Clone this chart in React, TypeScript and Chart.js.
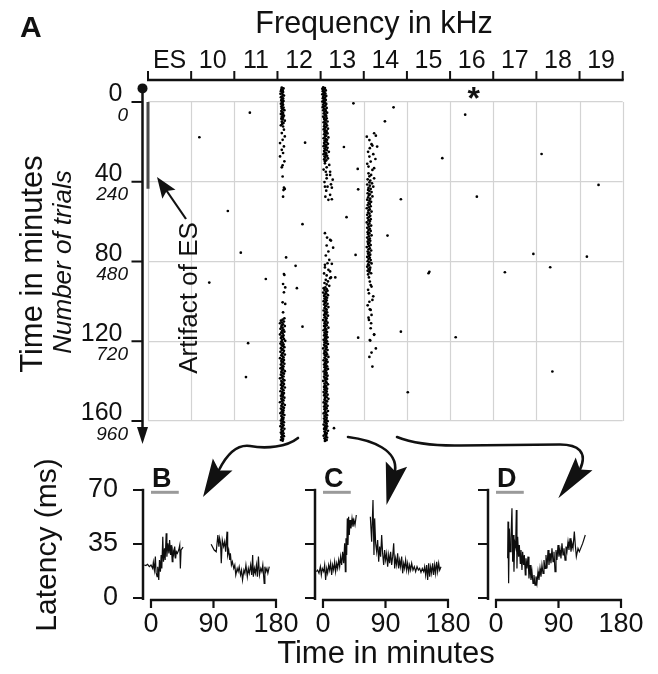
import React, { useEffect, useRef } from 'react';
import { Chart, registerables } from 'chart.js';

Chart.register(...registerables);

const FONT = "'Liberation Sans', Arial, Helvetica, sans-serif";
const INK = '#111111';
const GRID = '#d3d3d3';

// ---------- Raster (panel A) ----------
const freqLabels = ['ES', '10', '11', '12', '13', '14', '15', '16', '17', '18', '19'];
const timeTicks = [0, 40, 80, 120, 160];
const trialTicks = ['0', '240', '480', '720', '960'];
const esArtifact = [0, 43.5]; // minutes (start, end) of the ES artifact

// isolated responses: [column position, minutes]
const strayDots = [
  2.36, 5.4, 1.19, 17.7, 3.64, 20.4, 1.85, 54.7, 3.58, 61.3, 2.15, 75.6, 3.42, 82.2,
  1.42, 90.6, 2.73, 88.8, 3.45, 93.4, 3.58, 112.7, 2.32, 121.0, 2.27, 138.0,
  4.76, 0.7, 5.69, 2.7, 7.35, 6.4, 5.49, 9.7, 4.54, 22.6, 6.82, 28.2, 9.12, 26.1,
  4.86, 33.6, 4.87, 43.8, 10.44, 41.6, 5.86, 48.8, 7.62, 47.5, 4.6, 57.8, 5.55, 67.0,
  4.81, 76.7, 8.93, 76.2, 10.17, 77.6, 9.32, 82.9, 8.27, 85.4, 6.5, 85.9, 6.52, 85.2,
  5.86, 115.2, 4.87, 118.2, 7.13, 118.0, 9.37, 135.2, 6.02, 145.6, 4.31, 163.6,
];

// 12 kHz unit: [minutes, offset in hundredths of a column]
const band12 = [
  -7.2, 10, -6.8, 14, -6.3, 9, -5.9, 12, -5.4, 8, -5.0, 13, -4.5, 11, -4.1, 7, -3.6, 12, -3.2, 15,
  -2.7, 10, -2.3, 8, -1.8, 13, -1.4, 11, -0.9, 9, -0.5, 14, 0, 10, 0.5, 12, 0.9, 8, 1.4, 13,
  1.8, 11, 2.3, 9, 2.8, 14, 3.2, 10, 3.7, 12, 4.1, 16, 4.6, 9, 5.1, 11, 5.5, 13, 6.0, 8,
  6.5, 12, 6.9, 15, 7.4, 10, 7.9, 13, 8.4, 9, 8.8, 12, 9.4, 17, 9.9, 10, 10.5, 14, 11.0, 11,
  11.7, 8, 12.3, 13, 13.9, 15, 15.6, 10, 17.3, 17, 19.0, 12, 20.6, 6, 22.3, 15, 24.0, 10,
  25.6, 13, 27.3, 6, 29.8, 16, 31.8, 12, 32.8, 10, 37.4, 12, 43.0, 15, 43.6, 17, 44.2, 14,
  47.5, 13, 78.0, 20, 86.3, 15, 86.8, 16, 91.3, 13, 93.0, 18, 95.5, 15, 100.5, 12, 101.3, 18,
  105.5, 13, 108.5, 16,
  109.2, 12, 109.7, 8, 110.1, 15, 110.6, 11, 111.0, 6, 111.5, 13, 112.0, 10, 112.4, 17, 112.9, 9,
  113.3, 12, 113.8, 7, 114.3, 14, 114.7, 11, 115.2, 16, 115.6, 9, 116.1, 12, 116.6, 6, 117.0, 14,
  117.5, 10, 117.9, 13, 118.4, 8, 118.9, 15, 119.3, 11, 119.8, 18, 120.2, 9, 120.7, 12, 121.2, 7,
  121.6, 14, 122.1, 10, 122.5, 13, 123.0, 16, 123.5, 8, 123.9, 12, 124.4, 10, 124.8, 15, 125.3, 7,
  125.8, 13, 126.2, 11, 126.7, 17, 127.1, 9, 127.6, 12, 128.1, 14, 128.5, 6, 129.0, 11, 129.4, 15,
  129.9, 9, 130.4, 13, 130.8, 10, 131.3, 16, 131.7, 8, 132.2, 12, 132.7, 14, 133.1, 10, 133.6, 7,
  134.0, 13, 134.5, 11, 135.0, 17, 135.4, 9, 135.9, 12, 136.3, 15, 136.8, 8, 137.3, 11, 137.7, 14,
  138.2, 10, 138.6, 6, 139.1, 13, 139.6, 16, 140.0, 9, 140.5, 12, 140.9, 10, 141.4, 15, 141.9, 8,
  142.3, 13, 142.8, 11, 143.2, 17, 143.7, 9, 144.2, 12, 144.6, 14, 145.1, 7, 145.5, 11, 146.0, 15,
  146.5, 10, 146.9, 13, 147.4, 8, 147.8, 12, 148.3, 16, 148.8, 9, 149.2, 11, 149.7, 14, 150.1, 10,
  150.6, 6, 151.1, 13, 151.5, 11, 152.0, 17, 152.4, 9, 152.9, 12, 153.4, 15, 153.8, 8, 154.3, 11,
  154.7, 14, 155.2, 10, 155.7, 13, 156.1, 7, 156.6, 12, 157.0, 16, 157.5, 9, 158.0, 11, 158.4, 14,
  158.9, 10, 159.3, 13, 159.8, 8, 160.3, 12, 160.7, 15, 161.2, 9, 161.6, 11, 162.1, 14, 162.6, 7,
  163.0, 12, 163.5, 10, 163.9, 16, 164.4, 9, 164.9, 13, 165.3, 11, 165.8, 8, 166.2, 14, 166.7, 10,
  167.2, 12, 167.6, 15, 168.1, 9, 168.5, 11, 169.0, 13, 169.5, 8, 169.9, 12,
];

// 13 kHz unit
const band13 = [
  -7.3, 6, -7.0, 10, -6.6, 4, -6.2, 8, -5.8, 12, -5.4, 5, -5.0, 9, -4.6, 7, -4.2, 11, -3.8, 4,
  -3.4, 8, -3.0, 13, -2.6, 6, -2.2, 10, -1.8, 5, -1.4, 9, -1.0, 12, -0.6, 7, -0.2, 4, 0.2, 10,
  0.6, 8, 1.0, 13, 1.4, 6, 1.8, 11, 2.2, 9, 2.6, 5, 3.0, 14, 3.4, 8, 3.8, 11, 4.2, 6,
  4.6, 12, 5.0, 9, 5.4, 15, 5.8, 7, 6.2, 11, 6.6, 10, 7.0, 13, 7.4, 6, 7.8, 9, 8.2, 14,
  8.6, 8, 9.0, 12, 9.4, 10, 9.8, 16, 10.2, 7, 10.6, 11, 11.0, 13, 11.4, 9, 11.8, 15, 12.2, 8,
  12.6, 12, 13.0, 10, 13.4, 17, 13.8, 7, 14.2, 11, 14.6, 14, 15.0, 9, 15.4, 12, 15.8, 16, 16.2, 8,
  16.6, 11, 17.0, 13, 17.4, 10, 17.8, 18, 18.2, 7, 18.6, 12, 19.0, 15, 19.4, 9, 19.8, 11, 20.2, 14,
  20.6, 8, 21.0, 17, 21.4, 10, 21.8, 13, 22.2, 7, 22.6, 12, 23.0, 16, 23.4, 9, 23.8, 11, 24.2, 14,
  24.6, 8, 25.0, 19, 25.4, 10, 25.8, 13, 26.2, 7, 26.6, 12, 27.0, 15, 27.4, 9, 27.9, 11, 28.3, 17,
  28.8, 8, 29.3, 13, 29.8, 10,
  30.8, 10, 31.6, 20, 32.8, 14, 33.9, 7, 35.0, 12, 35.0, 22, 36.6, 22, 36.6, 14, 38.3, 14, 39.0, 28,
  40.2, 9, 41.3, 24, 42.5, 16, 42.5, 10, 43.0, 26, 44.5, 13, 46.6, 22, 47.5, 11, 48.8, 26, 49.1, 18,
  65.8, 10, 68.0, 15, 69.2, 22, 69.5, 24, 72.0, 14, 73.1, 29, 75.0, 18, 77.0, 12, 79.2, 20, 80.9, 16,
  81.2, 26, 81.7, 10, 83.0, 10, 84.2, 18, 85.0, 22, 86.0, 8, 87.0, 14, 88.0, 34, 88.0, 24, 88.4, 22,
  89.2, 12, 90.0, 17, 90.8, 9, 91.5, 14, 92.2, 20,
  93.0, 11, 93.4, 7, 93.9, 14, 94.3, 9, 94.7, 16, 95.2, 12, 95.6, 6, 96.0, 13, 96.5, 10, 96.9, 17,
  97.3, 8, 97.8, 12, 98.2, 15, 98.6, 9, 99.0, 11, 99.5, 14, 99.9, 7, 100.3, 12, 100.8, 10, 101.2, 16,
  101.6, 8, 102.1, 13, 102.5, 11, 102.9, 18, 103.4, 9, 103.8, 12, 104.2, 14, 104.6, 7, 105.1, 11,
  105.5, 15, 105.9, 10, 106.4, 13, 106.8, 8, 107.2, 17, 107.7, 11, 108.1, 9, 108.5, 14, 108.9, 12,
  109.4, 6, 109.8, 13, 110.2, 10, 110.7, 16, 111.1, 9, 111.5, 12, 112.0, 14, 112.4, 8, 112.8, 11,
  113.2, 18, 113.7, 10, 114.1, 13, 114.5, 7, 115.0, 12, 115.4, 15, 115.8, 9, 116.3, 11, 116.7, 14,
  117.1, 8, 117.5, 12, 118.0, 16, 118.4, 10, 118.8, 13, 119.3, 7, 119.7, 11, 120.1, 15, 120.6, 9,
  121.0, 12, 121.4, 17, 121.8, 8, 122.3, 13, 122.7, 10, 123.1, 14, 123.6, 6, 124.0, 12, 124.4, 16,
  124.9, 9, 125.3, 11, 125.7, 13, 126.1, 8, 126.6, 15, 127.0, 10, 127.4, 12, 127.9, 18, 128.3, 9,
  128.7, 11, 129.2, 14, 129.6, 7, 130.0, 12, 130.4, 16, 130.9, 10, 131.3, 13, 131.7, 8, 132.2, 11,
  132.6, 15, 133.0, 9, 133.5, 12, 133.9, 17, 134.3, 10, 134.7, 13, 135.2, 7, 135.6, 11, 136.0, 14,
  136.5, 9, 136.9, 12, 137.3, 16, 137.8, 8, 138.2, 13, 138.6, 10, 139.0, 15, 139.5, 11, 139.9, 6,
  140.3, 12, 140.8, 14, 141.2, 9, 141.6, 17, 142.1, 10, 142.5, 13, 142.9, 8, 143.3, 12, 143.8, 15,
  144.2, 9, 144.6, 11, 145.1, 14, 145.5, 7, 145.9, 13, 146.4, 10, 146.8, 16, 147.2, 8, 147.6, 12,
  148.1, 14, 148.5, 10, 148.9, 18, 149.4, 9, 149.8, 12, 150.2, 15, 150.7, 7, 151.1, 11, 151.5, 13,
  151.9, 10, 152.4, 16, 152.8, 8, 153.2, 12, 153.7, 14, 154.1, 9, 154.5, 11, 155.0, 17, 155.4, 10,
  155.8, 13, 156.2, 7, 156.7, 12, 157.1, 15, 157.5, 9, 158.0, 11, 158.4, 14, 158.8, 8, 159.3, 13,
  159.7, 10, 160.1, 16, 160.5, 9, 161.0, 12, 161.4, 14, 161.8, 7, 162.3, 11, 162.7, 15, 163.1, 10,
  163.6, 13, 164.0, 8, 164.4, 12, 164.9, 17, 165.3, 9, 165.7, 11, 166.1, 14, 166.6, 10, 167.0, 13,
  167.4, 7, 167.9, 12, 168.3, 15, 168.7, 9, 169.2, 11, 169.6, 14, 170.0, 10,
];

// 14 kHz unit
const band14 = [
  15.7, 24, 16.9, 28, 17.4, 7, 19.1, 13, 21.2, 18, 21.9, 20, 22.4, 31, 23.2, 14, 25.0, 10, 26.2, 22,
  27.4, 13, 28.6, 27, 29.9, 16, 31.0, 8, 32.4, 11, 33.2, 24, 34.1, 20, 35.8, 11, 36.6, 17,
  37.3, 13, 38.3, 24, 38.8, 9, 39.4, 15, 40.3, 13, 40.8, 19, 41.4, 8, 42.0, 14, 42.5, 22, 43.1, 11,
  43.6, 16, 44.1, 10, 44.7, 13, 45.2, 18, 45.8, 9, 46.3, 14, 46.8, 12, 47.4, 20, 47.9, 10, 48.5, 15,
  49.0, 8, 49.5, 13, 50.1, 17, 50.6, 11, 51.2, 14, 51.7, 9, 52.3, 16, 52.8, 12, 53.3, 7, 53.9, 14,
  54.4, 11, 55.0, 18, 55.5, 10, 56.0, 13, 56.6, 8, 57.1, 15, 57.7, 12, 58.2, 9, 58.8, 16, 59.3, 11,
  59.8, 14, 60.4, 7, 60.9, 13, 61.5, 10, 62.0, 17, 62.5, 12, 63.1, 8, 63.6, 14, 64.2, 11, 64.7, 16,
  65.3, 9, 65.8, 13, 66.3, 10, 66.9, 18, 67.4, 12, 68.0, 8, 68.5, 14, 69.0, 11, 69.6, 15, 70.1, 9,
  70.7, 13, 71.2, 10, 71.8, 16, 72.3, 12, 72.8, 7, 73.4, 14, 73.9, 11, 74.5, 17, 75.0, 9, 75.5, 13,
  76.1, 10, 76.6, 15, 77.2, 12, 77.7, 8, 78.2, 14, 78.8, 11, 79.3, 16, 79.9, 9, 80.4, 13, 81.0, 18,
  81.5, 10, 82.0, 12, 82.6, 8, 83.1, 15, 83.7, 11, 84.2, 14, 84.7, 9, 85.3, 13, 85.9, 17, 86.5, 10,
  88.0, 12, 90.1, 14, 91.8, 16, 92.6, 18, 94.2, 10, 96.0, 12, 97.5, 22, 99.3, 20, 100.2, 13, 102.0, 9,
  104.0, 14, 104.3, 16, 106.8, 18, 108.2, 11, 109.3, 12, 111.0, 17, 113.5, 16, 116.5, 24, 116.8, 24,
  119.4, 14, 119.7, 15, 123.6, 28, 125.7, 18, 127.9, 13, 132.7, 20,
];

// ---------- Latency panels (B, C, D) ----------
const panelTimeTicks = [0, 90, 180];
const latencyTicks = [0, 35, 70];
const esBar = [0, 40]; // minutes of electrical stimulation

// [minutes, latency ms]
const latB1 = [
  -9.7, 21.4, -7.3, 21.0, -4.9, 21.8, -2.4, 20.3, 0, 21.4, 2.4, 19.2, 3.4, 23.1, 4.9, 18.1, 6.3, 26.8,
  7.3, 16.6, 8.8, 13.8, 9.7, 20.3, 11.2, 11.7, 12.2, 24.6, 13.6, 17.1, 14.6, 27.9, 15.6, 19.2, 17.0, 39.7,
  18.0, 23.5, 19.5, 32.2, 20.4, 24.6, 21.9, 41.9, 22.9, 26.8, 24.3, 35.4, 25.8, 28.9, 26.8, 37.6, 28.2, 27.9,
  29.2, 34.3, 30.6, 23.5, 31.6, 31.1, 33.1, 27.9, 34.1, 33.3, 35.5, 25.7, 36.5, 30.0, 37.9, 28.9, 39.9, 31.1,
  41.4, 34.3, 42.3, 19.2, 43.3, 31.1, 46.2, 33.0,
];
const latB2 = [
  86.6, 34.8, 91.0, 31.1, 93.9, 30.0, 96.3, 40.8, 97.8, 33.3, 98.8, 38.7, 100.2, 35.4, 101.2, 22.5,
  102.7, 37.6, 104.6, 33.3, 106.1, 36.5, 107.5, 30.0, 109.5, 43.0, 110.4, 27.9, 111.9, 31.1, 113.4, 24.6,
  114.3, 28.9, 115.8, 21.4, 117.2, 23.5, 119.2, 19.2, 120.7, 21.4, 122.1, 14.9, 124.1, 19.2, 125.5, 17.1,
  127.0, 20.3, 128.9, 14.9, 130.4, 18.1, 131.8, 11.7, 133.8, 18.1, 135.2, 16.0, 136.7, 21.4, 138.7, 13.8,
  140.1, 19.2, 141.6, 16.0, 143.5, 21.4, 145.0, 14.9, 146.4, 27.9, 147.4, 13.8, 148.9, 19.2, 150.3, 16.0,
  151.8, 21.4, 153.2, 13.8, 154.7, 26.8, 156.2, 14.9, 158.1, 19.2, 159.6, 17.1, 161.0, 21.4, 163.0, 9.5,
  164.0, 20.3, 165.4, 17.1, 166.9, 19.2, 168.3, 16.0, 170.3, 20.3,
];
const latC1 = [
  -9.6, 17.1, -7.7, 18.1, -5.8, 16.0, -3.8, 20.3, -2.4, 14.9, -1.0, 19.2, 1.0, 17.1, 2.4, 21.4, 3.8, 11.7,
  5.3, 19.2, 6.7, 16.0, 8.2, 21.4, 9.6, 18.1, 11.0, 22.5, 12.5, 14.9, 13.9, 21.4, 15.4, 18.1, 16.8, 23.5,
  18.2, 17.1, 19.7, 22.5, 21.1, 19.2, 22.6, 24.6, 24.0, 20.3, 25.4, 26.8, 26.9, 21.4, 28.3, 30.0, 29.8, 22.5,
  31.2, 35.4, 32.2, 17.1, 33.1, 38.7, 34.1, 27.9, 35.0, 51.6, 36.0, 34.3, 36.9, 52.7, 37.9, 40.8, 38.9, 50.5,
  40.3, 45.1, 41.8, 51.6, 43.2, 46.2, 44.6, 50.5, 46.1, 47.3, 48.0, 53.8,
];
const latC2 = [
  68.2, 52.7, 70.1, 36.5, 72.0, 63.5, 73.4, 27.9, 74.4, 51.6, 75.8, 35.4, 77.3, 30.0, 78.7, 37.6, 80.2, 23.5,
  81.6, 33.3, 83.0, 26.8, 84.5, 40.8, 85.9, 28.9, 87.4, 21.4, 88.8, 31.1, 90.2, 24.6, 91.7, 28.9, 93.1, 20.3,
  94.6, 27.9, 96.0, 22.5, 97.4, 30.0, 98.9, 21.4, 100.3, 26.8, 101.8, 35.4, 103.2, 19.2, 104.6, 25.7,
  106.1, 21.4, 107.5, 28.9, 109.0, 19.2, 110.4, 24.6, 111.8, 20.3, 113.3, 26.8, 114.7, 16.0, 116.2, 22.5,
  117.6, 19.2, 119.0, 24.6, 120.5, 18.1, 121.9, 22.5, 123.4, 17.1, 124.8, 21.4, 126.2, 18.1, 127.7, 22.5,
  129.6, 18.1, 131.5, 20.3, 133.4, 17.1, 135.4, 20.3, 137.3, 18.1, 139.2, 19.2, 141.1, 16.6, 143.0, 19.2,
  145.0, 17.1, 146.4, 20.3, 147.8, 14.9, 149.3, 21.4, 150.7, 11.7, 152.2, 22.5, 153.6, 13.8, 155.0, 20.3,
  156.5, 16.0, 157.9, 22.5, 159.4, 14.9, 160.8, 21.4, 162.2, 16.0, 163.7, 23.5, 165.1, 17.1, 166.6, 22.5,
  168.0, 18.1, 169.9, 20.3,
];
const latD = [
  16.8, 25.7, 17.3, 49.5, 18.2, 9.5, 19.2, 45.1, 20.2, 30.0, 21.6, 38.7, 23.0, 58.1, 24.0, 23.5, 25.0, 40.8,
  25.9, 17.1, 26.9, 36.5, 28.3, 33.3, 29.3, 57.0, 30.2, 19.2, 31.2, 39.7, 32.6, 26.8, 33.6, 34.3, 35.0, 22.5,
  36.0, 31.1, 37.4, 18.1, 38.4, 30.0, 39.8, 21.4, 40.8, 27.9, 42.2, 14.9, 43.2, 25.7, 44.6, 19.2, 46.1, 26.8,
  47.5, 12.7, 49.0, 21.4, 50.4, 11.7, 51.8, 17.1, 53.3, 9.5, 54.7, 14.9, 56.2, 8.4, 57.6, 14.0, 59.0, 9.5,
  60.5, 17.1, 61.9, 11.7, 63.4, 19.2, 64.8, 13.8, 66.2, 21.4, 67.7, 16.0, 69.1, 24.6, 70.6, 19.2, 72.0, 27.9,
  73.4, 19.2, 74.9, 31.1, 76.3, 21.4, 77.8, 28.9, 79.2, 22.5, 80.6, 32.2, 82.1, 23.5, 83.5, 30.0, 85.0, 17.1,
  86.4, 31.1, 87.8, 24.6, 89.3, 34.3, 90.7, 26.8, 92.2, 31.1, 93.6, 25.7, 95.0, 35.4, 96.5, 27.9, 97.9, 32.2,
  99.4, 24.6, 100.8, 33.3, 102.2, 30.0, 103.7, 36.5, 105.1, 31.1, 106.6, 38.7, 108.0, 30.0, 109.4, 35.4,
  110.9, 32.2, 112.8, 43.0, 114.2, 34.3, 115.7, 26.8, 118.1, 32.2, 120.0, 30.0, 124.8, 35.4, 128.6, 40.8,
];

// ---------- helpers ----------
function pairs(arr: number[]) {
  const out: { x: number; y: number }[] = [];
  for (let i = 0; i < arr.length; i += 2) out.push({ x: arr[i], y: arr[i + 1] });
  return out;
}

function arrowHead(ctx: CanvasRenderingContext2D, tx: number, ty: number, dx: number, dy: number, len: number, half: number, notch: number) {
  const n = Math.hypot(dx, dy);
  const ux = dx / n, uy = dy / n;
  const bx = tx - ux * len, by = ty - uy * len;
  const px = -uy, py = ux;
  ctx.beginPath();
  ctx.moveTo(tx, ty);
  ctx.lineTo(bx + px * half, by + py * half);
  ctx.lineTo(tx - ux * (len - notch), ty - uy * (len - notch));
  ctx.lineTo(bx - px * half, by - py * half);
  ctx.closePath();
  ctx.fill();
}

function rotatedText(ctx: CanvasRenderingContext2D, text: string, x: number, y: number, font: string) {
  ctx.save();
  ctx.translate(x, y);
  ctx.rotate(-Math.PI / 2);
  ctx.font = font;
  ctx.textAlign = 'center';
  ctx.textBaseline = 'alphabetic';
  ctx.fillText(text, 0, 0);
  ctx.restore();
}

const noPad = (s: any) => {
  s.paddingLeft = 0;
  s.paddingRight = 0;
  s.paddingTop = 0;
  s.paddingBottom = 0;
};

const rasterDecor = {
  id: 'rasterDecor',
  beforeDatasetsDraw(chart: any) {
    const { ctx, scales } = chart;
    const x = scales.x, y = scales.y;
    const top = y.getPixelForValue(timeTicks[0]);
    const bottom = y.getPixelForValue(timeTicks[timeTicks.length - 1]);
    ctx.save();
    ctx.strokeStyle = GRID;
    ctx.lineWidth = 1.2;
    for (let i = 0; i <= freqLabels.length; i++) {
      const px = Math.round(x.getPixelForValue(i)) + 0.5;
      ctx.beginPath();
      ctx.moveTo(px, top);
      ctx.lineTo(px, bottom);
      ctx.stroke();
    }
    ctx.restore();
  },
  afterDraw(chart: any) {
    const { ctx, scales, chartArea } = chart;
    const x = scales.x, y = scales.y;
    ctx.save();
    ctx.strokeStyle = INK;
    ctx.fillStyle = INK;

    // top frequency axis (detached)
    const axY = 80;
    ctx.lineWidth = 2.5;
    ctx.beginPath();
    ctx.moveTo(x.getPixelForValue(0) - 1, axY);
    ctx.lineTo(x.getPixelForValue(freqLabels.length) + 1, axY);
    ctx.stroke();
    ctx.lineWidth = 2;
    ctx.beginPath();
    for (let i = 0; i <= freqLabels.length; i++) {
      const px = x.getPixelForValue(i);
      ctx.moveTo(px, axY);
      ctx.lineTo(px, axY - 9);
    }
    ctx.stroke();

    // left time axis with start dot and arrow
    const ax = chartArea.left - 5.5;
    const yStart = y.getPixelForValue(-6.8);
    const yEnd = y.getPixelForValue(171);
    ctx.lineWidth = 2.5;
    ctx.beginPath();
    ctx.moveTo(ax, yStart);
    ctx.lineTo(ax, yEnd - 12);
    ctx.stroke();
    ctx.beginPath();
    ctx.arc(ax, yStart, 5, 0, Math.PI * 2);
    ctx.fill();
    ctx.beginPath();
    ctx.moveTo(ax - 5.5, yEnd - 16);
    ctx.lineTo(ax + 5.5, yEnd - 16);
    ctx.lineTo(ax, yEnd + 1);
    ctx.closePath();
    ctx.fill();
    ctx.lineWidth = 2;
    ctx.beginPath();
    timeTicks.forEach((v) => {
      const py = y.getPixelForValue(v);
      ctx.moveTo(ax - 11, py);
      ctx.lineTo(ax, py);
    });
    ctx.stroke();

    // time tick labels (sit just above each tick)
    ctx.font = `25px ${FONT}`;
    ctx.textAlign = 'right';
    ctx.textBaseline = 'alphabetic';
    timeTicks.forEach((v) => {
      ctx.fillText(String(v), ax - 20, y.getPixelForValue(v) - 0.5);
    });

    // texts
    ctx.font = `bold 30px ${FONT}`;
    ctx.textAlign = 'left';
    ctx.fillText('A', 20, 37);
    ctx.font = `30.5px ${FONT}`;
    ctx.textAlign = 'center';
    ctx.fillText('Frequency in kHz', 374, 33);
    rotatedText(ctx, 'Time in minutes', 42, 264, `31px ${FONT}`);
    rotatedText(ctx, 'Number of trials', 71, 262, `italic 26px ${FONT}`);
    rotatedText(ctx, 'Artifact of ES', 197, 298, `26px ${FONT}`);
    rotatedText(ctx, 'Latency (ms)', 56, 545, `30px ${FONT}`);
    ctx.font = `31px ${FONT}`;
    ctx.textAlign = 'center';
    ctx.fillText('Time in minutes', 386, 663);
    ctx.font = `bold 32px ${FONT}`;
    ctx.fillText('*', x.getPixelForValue(7.55), 109);

    // arrow to the ES artifact
    ctx.lineWidth = 2.2;
    ctx.beginPath();
    ctx.moveTo(186, 219);
    ctx.lineTo(164, 187);
    ctx.stroke();
    arrowHead(ctx, 157, 177, -29, -42, 21, 8, 4);

    // curved arrows to the latency panels
    ctx.lineWidth = 2.6;
    ctx.lineCap = 'round';
    ctx.beginPath();
    ctx.moveTo(298, 438);
    ctx.bezierCurveTo(287, 447, 266, 449, 250, 446);
    ctx.bezierCurveTo(236, 444, 226, 456, 219, 470);
    ctx.stroke();
    arrowHead(ctx, 203, 497, -20, 33, 38, 11.5, 7);

    ctx.beginPath();
    ctx.moveTo(348, 437);
    ctx.bezierCurveTo(372, 440, 398, 450, 395, 471);
    ctx.stroke();
    arrowHead(ctx, 386.5, 505, -10, 41, 42, 11, 7);

    ctx.beginPath();
    ctx.moveTo(397, 437);
    ctx.bezierCurveTo(412, 443, 430, 446, 460, 445.5);
    ctx.lineTo(560, 444.5);
    ctx.bezierCurveTo(578, 444.5, 588, 452, 580, 469.5);
    ctx.stroke();
    arrowHead(ctx, 558.3, 498.3, -25.7, 34.3, 43, 10.5, 7);

    ctx.restore();
  },
};

function rasterConfig(): any {
  const dots = pairs(strayDots);
  const addBand = (col: number, arr: number[]) => {
    for (let i = 0; i < arr.length; i += 2) dots.push({ x: col + arr[i + 1] / 100, y: arr[i] });
  };
  addBand(3, band12);
  addBand(4, band13);
  addBand(5, band14);

  return {
    type: 'scatter',
    data: {
      datasets: [
        {
          type: 'line',
          data: esArtifact.map((t) => ({ x: 0, y: t })),
          borderColor: '#4a4a4a',
          borderWidth: 3,
          pointRadius: 0,
          clip: false,
        },
        {
          type: 'scatter',
          data: dots,
          pointRadius: 1.35,
          pointHoverRadius: 1.35,
          pointBackgroundColor: '#000',
          pointBorderColor: '#000',
          pointBorderWidth: 0,
          backgroundColor: '#000',
          borderColor: '#000',
          borderWidth: 0,
          clip: false,
        },
      ],
    },
    options: {
      animation: false,
      responsive: false,
      devicePixelRatio: 1,
      events: [],
      layout: { padding: { left: 0, top: 0, right: 35.3, bottom: 674 - 444.9 } },
      plugins: { legend: { display: false }, tooltip: { enabled: false } },
      scales: {
        x: {
          type: 'linear',
          position: 'top',
          min: 0,
          max: freqLabels.length,
          afterBuildTicks: (s: any) => {
            s.ticks = freqLabels.map((_, i) => ({ value: i + 0.5 }));
          },
          ticks: {
            autoSkip: false,
            maxRotation: 0,
            minRotation: 0,
            padding: 9.5,
            color: INK,
            font: { family: FONT, size: 25, lineHeight: 1.2 },
            callback: (v: any) => freqLabels[Math.round(Number(v) - 0.5)],
          },
          grid: { display: false, drawTicks: false },
          border: { display: false },
          afterFit: (s: any) => {
            s.height = 86;
            noPad(s);
          },
        },
        y: {
          type: 'linear',
          position: 'left',
          min: -8,
          max: 172,
          reverse: true,
          afterBuildTicks: (s: any) => {
            s.ticks = timeTicks.map((v) => ({ value: v }));
          },
          ticks: {
            padding: 20,
            color: INK,
            font: { family: FONT, size: 19, style: 'italic', lineHeight: 1.4 },
            callback: (v: any) => ['', trialTicks[timeTicks.indexOf(Number(v))]],
          },
          grid: { color: GRID, lineWidth: 1.2, drawTicks: false },
          border: { display: false },
          afterFit: (s: any) => {
            s.width = 148;
            noPad(s);
          },
        },
      },
    },
    plugins: [rasterDecor],
  };
}

function panelDecor(letter: string) {
  return {
    id: 'panelDecor',
    afterDraw(chart: any) {
      const { ctx, scales, chartArea } = chart;
      const x = scales.x, y = scales.y;
      const ax = chartArea.left;
      const y0 = y.getPixelForValue(0);
      const yTop = y.getPixelForValue(latencyTicks[latencyTicks.length - 1]);
      ctx.save();
      ctx.strokeStyle = INK;
      ctx.fillStyle = INK;
      ctx.lineWidth = 2.5;
      ctx.beginPath();
      ctx.moveTo(ax, yTop - 1.2);
      ctx.lineTo(ax, y0 + 2);
      ctx.stroke();
      ctx.lineWidth = 2.2;
      ctx.beginPath();
      latencyTicks.forEach((v) => {
        const py = y.getPixelForValue(v);
        ctx.moveTo(ax - 10, py);
        ctx.lineTo(ax + 1, py);
      });
      ctx.stroke();
      const xa = y0 + 2;
      ctx.lineWidth = 2.5;
      ctx.beginPath();
      ctx.moveTo(x.getPixelForValue(panelTimeTicks[0]) - 1, xa);
      ctx.lineTo(x.getPixelForValue(panelTimeTicks[panelTimeTicks.length - 1]) + 1, xa);
      ctx.stroke();
      ctx.lineWidth = 2.2;
      ctx.beginPath();
      panelTimeTicks.forEach((v) => {
        const px = x.getPixelForValue(v);
        ctx.moveTo(px, xa - 1);
        ctx.lineTo(px, xa + 8);
      });
      ctx.stroke();
      ctx.font = `bold 27px ${FONT}`;
      ctx.textAlign = 'left';
      ctx.textBaseline = 'alphabetic';
      ctx.fillText(letter, x.getPixelForValue(0) + 1, yTop - 3);
      ctx.restore();
    },
  };
}

const PANEL_W = 312;
const PANEL_H = 214;

function panelConfig(letter: string, segments: number[][], showY: boolean): any {
  const lineSets = segments.map((seg) => ({
    data: pairs(seg),
    borderColor: '#0d0d0d',
    borderWidth: 1.2,
    pointRadius: 0,
    tension: 0,
    clip: false,
  }));
  return {
    type: 'line',
    data: {
      datasets: [
        ...lineSets,
        {
          data: esBar.map((t) => ({ x: t, y: 68.5 })),
          borderColor: '#9a9a9a',
          borderWidth: 3,
          pointRadius: 0,
          clip: false,
        },
      ],
    },
    options: {
      animation: false,
      responsive: false,
      devicePixelRatio: 1,
      events: [],
      layout: { padding: { left: 0, top: 30, right: PANEL_W - 276, bottom: 0 } },
      plugins: { legend: { display: false }, tooltip: { enabled: false } },
      scales: {
        x: {
          type: 'linear',
          min: -11.5,
          max: 180,
          afterBuildTicks: (s: any) => {
            s.ticks = panelTimeTicks.map((v) => ({ value: v }));
          },
          ticks: {
            autoSkip: false,
            maxRotation: 0,
            padding: 10.5,
            color: INK,
            font: { family: FONT, size: 27, lineHeight: 1.2 },
          },
          grid: { display: false, drawTicks: false },
          border: { display: false },
          afterFit: (s: any) => {
            s.height = 76;
            noPad(s);
          },
        },
        y: {
          type: 'linear',
          min: 0,
          max: 70,
          afterBuildTicks: (s: any) => {
            s.ticks = latencyTicks.map((v) => ({ value: v }));
          },
          ticks: {
            display: showY,
            padding: 25,
            color: INK,
            font: { family: FONT, size: 27, lineHeight: 1.2 },
          },
          grid: { display: false, drawTicks: false },
          border: { display: false },
          afterFit: (s: any) => {
            s.width = 143;
            noPad(s);
          },
        },
      },
    },
    plugins: [panelDecor(letter)],
  };
}

export default function App() {
  const rasterRef = useRef<HTMLCanvasElement>(null);
  const bRef = useRef<HTMLCanvasElement>(null);
  const cRef = useRef<HTMLCanvasElement>(null);
  const dRef = useRef<HTMLCanvasElement>(null);

  useEffect(() => {
    const charts = [
      new Chart(rasterRef.current as HTMLCanvasElement, rasterConfig()),
      new Chart(bRef.current as HTMLCanvasElement, panelConfig('B', [latB1, latB2], true)),
      new Chart(cRef.current as HTMLCanvasElement, panelConfig('C', [latC1, latC2], false)),
      new Chart(dRef.current as HTMLCanvasElement, panelConfig('D', [latD], false)),
    ];
    return () => charts.forEach((c) => c.destroy());
  }, []);

  const abs = (left: number, top: number, w: number, h: number): React.CSSProperties => ({
    position: 'absolute',
    left,
    top,
    width: w,
    height: h,
  });

  return (
    <div style={{ position: 'absolute', left: 0, top: 0, width: 658, height: 674, background: '#fff', overflow: 'hidden' }}>
      <canvas ref={rasterRef} width={658} height={674} style={abs(0, 0, 658, 674)} />
      <canvas ref={bRef} width={PANEL_W} height={PANEL_H} style={abs(0, 460, PANEL_W, PANEL_H)} />
      <canvas ref={cRef} width={PANEL_W} height={PANEL_H} style={abs(172, 460, PANEL_W, PANEL_H)} />
      <canvas ref={dRef} width={PANEL_W} height={PANEL_H} style={abs(345, 460, PANEL_W, PANEL_H)} />
    </div>
  );
}
